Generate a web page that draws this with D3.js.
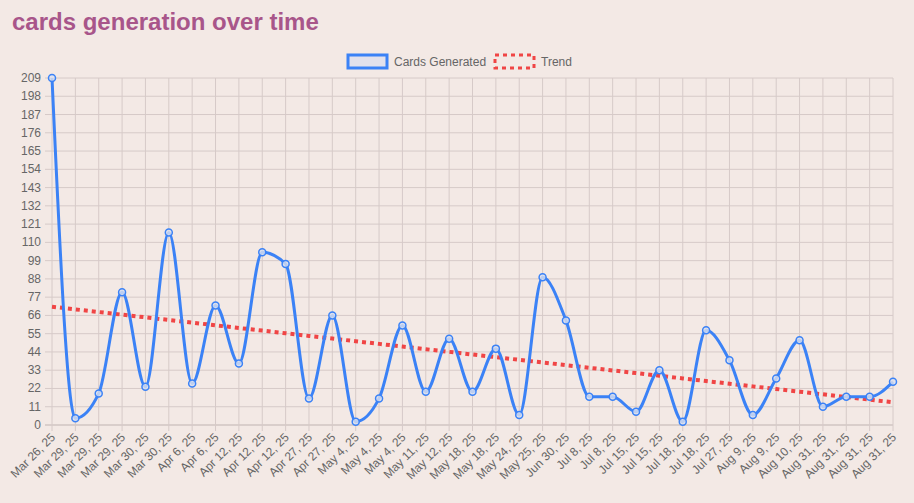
<!DOCTYPE html>
<html>
<head>
<meta charset="utf-8">
<script src="https://cdn.jsdelivr.net/npm/d3@7"></script>
<style>
  body { margin: 0; background: #f3e9e5; font-family: "Liberation Sans", Arial, sans-serif; }
</style>
</head>
<body>
<svg id="chart" width="914" height="503"></svg>
<script>
var labels = ["Mar 26, 25", "Mar 29, 25", "Mar 29, 25", "Mar 29, 25", "Mar 30, 25", "Mar 30, 25",
  "Apr 6, 25", "Apr 6, 25", "Apr 12, 25", "Apr 12, 25", "Apr 12, 25", "Apr 27, 25", "Apr 27, 25",
  "May 4, 25", "May 4, 25", "May 4, 25", "May 11, 25", "May 12, 25", "May 18, 25", "May 18, 25",
  "May 24, 25", "May 25, 25", "Jun 30, 25", "Jul 8, 25", "Jul 8, 25", "Jul 15, 25", "Jul 15, 25",
  "Jul 18, 25", "Jul 18, 25", "Jul 27, 25", "Aug 9, 25", "Aug 9, 25", "Aug 10, 25", "Aug 31, 25",
  "Aug 31, 25", "Aug 31, 25", "Aug 31, 25"];
var cards = [209, 4, 19, 80, 23, 116, 25, 72, 37, 104, 97, 16, 66, 2, 16, 60, 20, 52, 20, 46,
  6, 89, 63, 17, 17, 8, 33, 2, 57, 39, 6, 28, 51, 11, 17, 17, 26];
var yTicks = [0, 11, 22, 33, 44, 55, 66, 77, 88, 99, 110, 121, 132, 143, 154, 165, 176, 187, 198, 209];

// least squares trend over the series
var n = cards.length;
var mx = d3.mean(cards, function(d, i) { return i; });
var my = d3.mean(cards);
var sxy = d3.sum(cards, function(d, i) { return (i - mx) * (d - my); });
var sxx = d3.sum(cards, function(d, i) { return (i - mx) * (i - mx); });
var slope = sxy / sxx;
var trend = cards.map(function(d, i) { return my + slope * (i - mx); });

var svg = d3.select("#chart");
var x = d3.scaleLinear().domain([0, n - 1]).range([52, 893]);
var y = d3.scaleLinear().domain([0, 209]).range([425, 78]);

svg.append("text").attr("x", 12).attr("y", 30)
  .attr("font-size", 24).attr("font-weight", "bold").attr("fill", "#a8558a")
  .text("cards generation over time");

// grid
svg.selectAll("line.hg").data(yTicks).enter().append("line")
  .attr("x1", 45).attr("x2", 893)
  .attr("y1", function(d) { return y(d); }).attr("y2", function(d) { return y(d); })
  .attr("stroke", function(d) { return d === 0 ? "#bfb3b1" : "#d6cac8"; }).attr("stroke-width", 1);
svg.selectAll("line.vg").data(labels).enter().append("line")
  .attr("x1", function(d, i) { return x(i); }).attr("x2", function(d, i) { return x(i); })
  .attr("y1", 78).attr("y2", 431)
  .attr("stroke", "#d6cac8").attr("stroke-width", 1);

svg.selectAll("text.yl").data(yTicks).enter().append("text")
  .attr("x", 41).attr("y", function(d) { return y(d) + 4; })
  .attr("text-anchor", "end").attr("font-size", 12).attr("fill", "#666")
  .text(function(d) { return d; });

svg.selectAll("text.xl").data(labels).enter().append("text")
  .attr("transform", function(d, i) { return "translate(" + (x(i) + 4) + ",438) rotate(-45)"; })
  .attr("text-anchor", "end").attr("font-size", 12).attr("fill", "#666")
  .text(function(d) { return d; });

// trend
svg.append("path").datum(trend)
  .attr("d", d3.line().x(function(d, i) { return x(i); }).y(function(d) { return y(d); }))
  .attr("fill", "none").attr("stroke", "#f04545").attr("stroke-width", 4)
  .attr("stroke-dasharray", "4,4");

// cards line
svg.append("path").datum(cards)
  .attr("d", d3.line().x(function(d, i) { return x(i); }).y(function(d) { return y(d); })
    .curve(d3.curveMonotoneX))
  .attr("fill", "none").attr("stroke", "#3b82f6").attr("stroke-width", 3);
svg.selectAll("circle.pt").data(cards).enter().append("circle")
  .attr("cx", function(d, i) { return x(i); }).attr("cy", function(d) { return y(d); })
  .attr("r", 3.5).attr("fill", "rgba(220,225,240,0.8)").attr("stroke", "#3b82f6").attr("stroke-width", 1.5);

// legend
var lg = svg.append("g");
lg.append("rect").attr("x", 348).attr("y", 55).attr("width", 39).attr("height", 13)
  .attr("fill", "#e2e1ec").attr("stroke", "#3b82f6").attr("stroke-width", 3);
lg.append("text").attr("x", 394).attr("y", 65.5).attr("font-size", 12).attr("fill", "#666").text("Cards Generated");
lg.append("rect").attr("x", 495).attr("y", 55).attr("width", 39).attr("height", 13)
  .attr("fill", "none").attr("stroke", "#f04545").attr("stroke-width", 3).attr("stroke-dasharray", "4,4");
lg.append("text").attr("x", 541).attr("y", 65.5).attr("font-size", 12).attr("fill", "#666").text("Trend");
</script>
</body>
</html>
